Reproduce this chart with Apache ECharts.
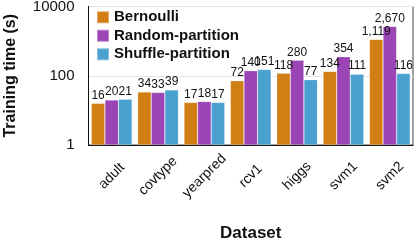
<!DOCTYPE html>
<html>
<head>
<meta charset="utf-8">
<script src="https://cdn.jsdelivr.net/npm/echarts@6/dist/echarts.min.js"></script>
<style>html,body{margin:0;padding:0;background:#fff;}#c{width:415px;height:242px;}</style>
</head>
<body>
<div id="c"></div>
<script>
const categories = ['adult', 'covtype', 'yearpred', 'rcv1', 'higgs', 'svm1', 'svm2'];
const seriesNames = ['Bernoulli', 'Random-partition', 'Shuffle-partition'];
const bernoulli = [16, 34, 17, 72, 118, 134, 1119];
const randomPartition = [20, 33, 18, 140, 280, 354, 2670];
const shufflePartition = [21, 39, 17, 151, 77, 111, 116];
const yTickLabels = ['1', '100', '10000'];

const colors = ['#D17E14', '#9B44B5', '#4AA0CE'];
const FONT = '"Liberation Sans", Arial, Helvetica, sans-serif';

const chart = echarts.init(document.getElementById('c'), null, { renderer: 'canvas' });
const mk = (name, data, i) => ({
  name: name,
  type: 'bar',
  data: data,
  barGap: '0%',
  barCategoryGap: '12%',
  itemStyle: { color: colors[i], borderColor: 'rgba(255,255,255,0.35)', borderWidth: 0.6 },
  label: {
    show: true,
    position: 'top',
    distance: 2,
    fontFamily: FONT,
    fontSize: 12,
    color: '#111',
    formatter: p => Number(p.value).toLocaleString('en-US')
  }
});

chart.setOption({
  animation: false,
  textStyle: { fontFamily: FONT },
  grid: { left: 88.5, right: 2, top: 6.5, bottom: 97, show: true, borderColor: '#444', borderWidth: 1, outerBoundsMode: 'none', containLabel: false },
  legend: {
    data: seriesNames,
    orient: 'vertical',
    left: 96,
    top: 8,
    padding: 0,
    itemWidth: 12,
    itemHeight: 12,
    itemGap: 0,
    icon: 'rect',
    textStyle: { fontFamily: FONT, fontSize: 15, fontWeight: 'bold', color: '#111', lineHeight: 18.5 }
  },
  xAxis: {
    type: 'category',
    data: categories,
    name: 'Dataset',
    nameLocation: 'middle',
    nameGap: 80,
    nameTextStyle: { fontFamily: FONT, fontSize: 17, fontWeight: 'bold', color: '#111' },
    axisLine: { lineStyle: { color: '#111', width: 1 } },
    axisTick: { show: false },
    axisLabel: {
      interval: 0,
      rotate: 45,
      align: 'center',
      verticalAlign: 'middle',
      margin: 31,
      fontFamily: FONT,
      fontSize: 14,
      color: '#111'
    }
  },
  yAxis: {
    type: 'log',
    logBase: 100,
    min: 1,
    max: 10000,
    name: 'Training time (s)',
    nameLocation: 'middle',
    nameGap: 70,
    nameTextStyle: { fontFamily: FONT, fontSize: 16, fontWeight: 'bold', color: '#111' },
    axisLine: { show: true, lineStyle: { color: '#111', width: 1 } },
    axisTick: { show: false },
    splitLine: { show: true, lineStyle: { color: '#e6e6e6', width: 1 } },
    axisLabel: {
      margin: 14,
      fontFamily: FONT,
      fontSize: 15,
      color: '#111',
      formatter: v => {
        const idx = Math.round(Math.log(v) / Math.log(100));
        return yTickLabels[idx] !== undefined ? yTickLabels[idx] : String(v);
      }
    }
  },
  series: [
    mk(seriesNames[0], bernoulli, 0),
    mk(seriesNames[1], randomPartition, 1),
    mk(seriesNames[2], shufflePartition, 2)
  ]
});
</script>
</body>
</html>
